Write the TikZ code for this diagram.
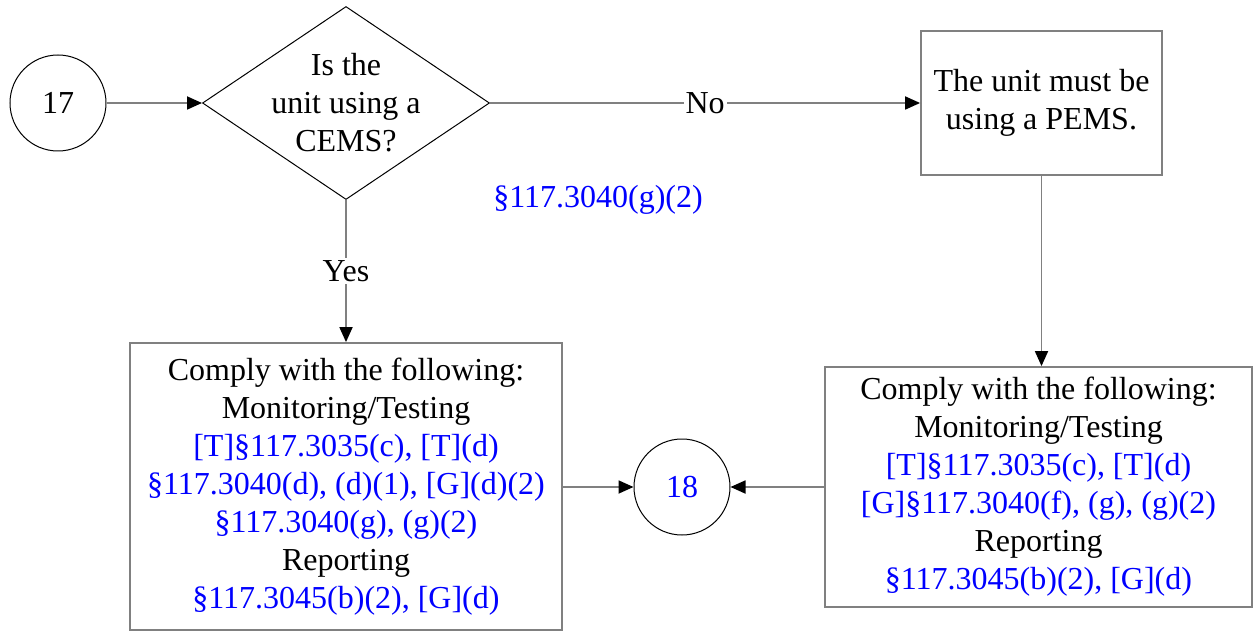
\documentclass[tikz,border=0pt]{standalone}
\usepackage{fontspec}
\setmainfont{Liberation Serif}
\usetikzlibrary{shapes.geometric,arrows.meta}
\begin{document}
\begin{tikzpicture}[x=0.5pt,y=-0.5pt,
  txt/.style={font=\fontsize{16}{19}\selectfont, align=center},
  circ/.style={txt, circle, draw=black, line width=0.5pt, minimum size=48pt, inner sep=0pt},
  dia/.style={diamond, draw=black, line width=0.5pt, aspect=1.487, minimum width=143.5pt, minimum height=96.5pt, inner sep=0pt},
  boxn/.style={txt, rectangle, draw=gray, line width=0.9pt, inner sep=0pt},
  conn/.style={draw=gray, line width=0.9pt, -{Triangle[length=7.5pt,width=6.5pt,color=black]}},
  lbl/.style={txt, fill=white, inner sep=1pt}]
\useasboundingbox (0,0) rectangle (1254,631);
\node[circ] (c17) at (58,103) {17};
\node[dia] (q) at (346,103) {};
\node[txt] (qt) at (q.center) {Is the\\unit using a\\CEMS?};
\node[boxn, minimum width=120.5pt, minimum height=72pt] (pems) at (1041.5,103) {The unit must be\\using a PEMS.};
\node[txt, text=blue] (g2) at (598,200) {§117.3040(g)(2)};
\node[boxn, minimum width=216pt, minimum height=143.5pt] (lbox) at (346,486.5) {Comply with the following:\\Monitoring/Testing\\\textcolor{blue}{[T]§117.3035(c), [T](d)}\\\textcolor{blue}{§117.3040(d), (d)(1), [G](d)(2)}\\\textcolor{blue}{§117.3040(g), (g)(2)}\\Reporting\\\textcolor{blue}{§117.3045(b)(2), [G](d)}};
\node[boxn, minimum width=213.5pt, minimum height=120pt] (rbox) at (1038.5,487) {Comply with the following:\\Monitoring/Testing\\\textcolor{blue}{[T]§117.3035(c), [T](d)}\\\textcolor{blue}{[G]§117.3040(f), (g), (g)(2)}\\Reporting\\\textcolor{blue}{§117.3045(b)(2), [G](d)}};
\node[circ, text=blue] (c18) at (682,487) {18};
\draw[conn] (c17.east) -- (q.west);
\draw[conn] (q.east) -- node[lbl] {No} (q.east -| pems.west);
\draw[conn] (q.south) -- node[lbl] {Yes} (q.south |- lbox.north);
\draw[conn] (pems.south) -- (pems.south |- rbox.north);
\draw[conn] (lbox.east |- c18.west) -- (c18.west);
\draw[conn] (rbox.west |- c18.east) -- (c18.east);
\end{tikzpicture}
\end{document}
